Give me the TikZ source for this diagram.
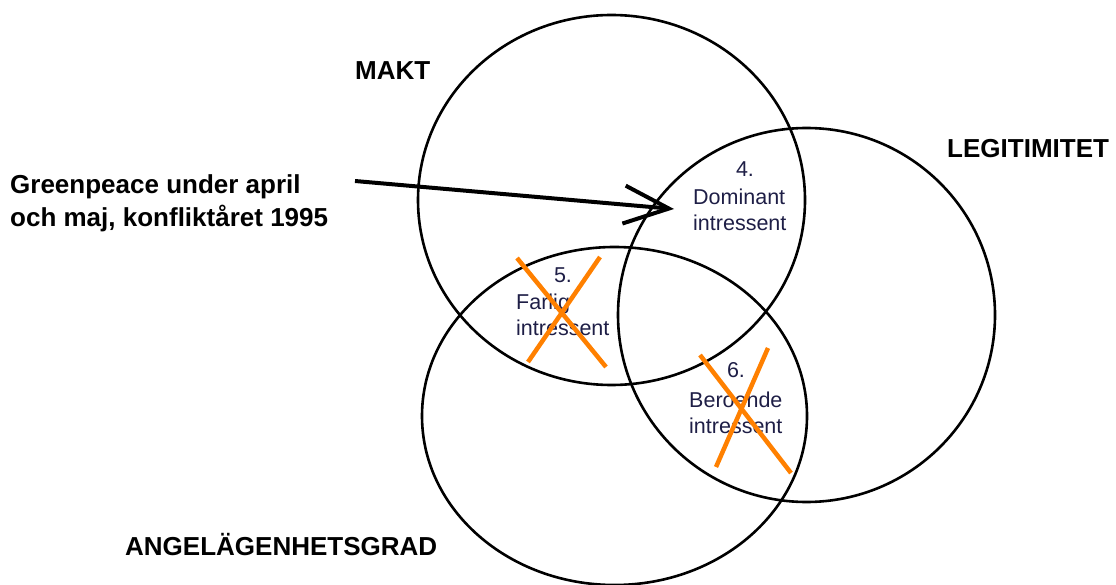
\documentclass[tikz,border=0pt]{standalone}
\usepackage{fontspec}
\setmainfont{Liberation Sans}
\usetikzlibrary{arrows.meta}

\definecolor{korange}{RGB}{255,128,0}
\definecolor{regiontext}{RGB}{30,30,70}

\tikzset{
  rubrik/.style={font=\fontsize{26}{33}\selectfont\bfseries, inner sep=0pt},
  omrade/.style={font=\fontsize{21.5}{26}\selectfont, text=regiontext, inner sep=0pt, align=left},
  cirkel/.style={line width=2.6pt},
  kryss/.style={line width=4.5pt, draw=korange},
  pil/.style={line width=4pt, -{Straight Barb[length=45pt, width=38pt]}}
}

\begin{document}
\begin{tikzpicture}[x=1pt,y=-1pt]
    % Fast storlek på figuren
    \useasboundingbox (0,0) rectangle (1116,585);

    % Cirklarna
    \draw[cirkel] (611.5,200) ellipse [x radius=193.5pt, y radius=185pt];
    \draw[cirkel] (806.5,315) ellipse [x radius=188.5pt, y radius=187pt];
    \draw[cirkel] (614.5,416) ellipse [x radius=192.5pt, y radius=169pt];

    % Rubriker (base = sista radens baslinje)
    \node[rubrik, anchor=base west] (makt) at (355,80) {MAKT};
    \node[rubrik, anchor=base west] (legitimitet) at (947,158) {LEGITIMITET};
    \node[rubrik, anchor=base west] (angel) at (125,555) {ANGELÄGENHETSGRAD};
    \node[rubrik, anchor=base west, align=left] (greenpeace) at (10,227)
        {Greenpeace under april\\och maj, konfliktåret 1995};

    % Områdena
    \node[omrade, anchor=base] (nr4) at (745,177) {4.};
    \node[omrade, anchor=base west] (dominant) at (693,231) {Dominant\\intressent};

    \node[omrade, anchor=base] (nr5) at (563,283) {5.};
    \node[omrade, anchor=base west] (farlig) at (516,335) {Farlig\\intressent};

    \node[omrade, anchor=base] (nr6) at (736,377) {6.};
    \node[omrade, anchor=base west] (beroende) at (689,433) {Beroende\\intressent};

    % Pil
    \coordinate (pilstart) at (355,181);
    \coordinate (pilspets) at (674,209);
    \draw[pil] (pilstart) -- (pilspets);

    % Överstrukna områden
    \draw[kryss] (517,258) -- (606,367);
    \draw[kryss] (600,257) -- (528,362);

    \draw[kryss] (700,355) -- (791,473);
    \draw[kryss] (768,348) -- (716,467);

\end{tikzpicture}
\end{document}
